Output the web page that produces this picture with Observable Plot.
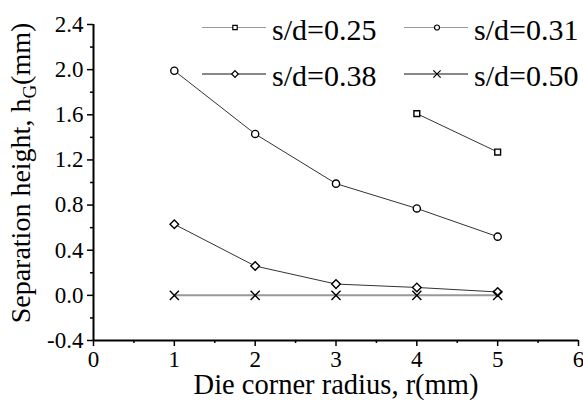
<!DOCTYPE html>
<html>
<head>
<meta charset="utf-8">
<script src="https://cdn.jsdelivr.net/npm/d3@7"></script>
<script src="https://cdn.jsdelivr.net/npm/@observablehq/plot@0.6"></script>
<style>
  html, body { margin: 0; padding: 0; background: #fff; }
  #chart { width: 583px; height: 402px; }
  #chart svg, #chart svg g, #chart svg text, #chart svg tspan { font-family: "Liberation Serif", "Times New Roman", Times, serif !important; }
</style>
</head>
<body>
<div id="chart"></div>
<script>
// ---- data ----
const radius = [1, 2, 3, 4, 5];
const seriesNames = ["s/d=0.25", "s/d=0.31", "s/d=0.38", "s/d=0.50"];
const sd025 = [null, null, null, 1.61, 1.27];
const sd031 = [1.99, 1.43, 0.99, 0.77, 0.52];
const sd038 = [0.63, 0.26, 0.10, 0.07, 0.03];
const sd050 = [0.00, 0.00, 0.00, 0.00, 0.00];
const xTicks = [0, 1, 2, 3, 4, 5, 6];
const xMinorTicks = [0.5, 1.5, 2.5, 3.5, 4.5, 5.5];
const yTicks = [-0.4, 0.0, 0.4, 0.8, 1.2, 1.6, 2.0, 2.4];
const yMinorTicks = [-0.2, 0.2, 0.6, 1.0, 1.4, 1.8, 2.2];
const xTitle = "Die corner radius, r(mm)";
const yTitleParts = ["Separation height, h", "G", "(mm)"];

// ---- styles per series ----
const seriesValues = [sd025, sd031, sd038, sd050];
const symbols = ["square2", "circle", "diamond2", "times"];
const symbolR = [3.7, 3.6, 3.9, 4.2];
const lineColor = ["#333", "#333", "#333", "#999"];
const lineWidth = [1, 1, 1, 2];
const legendLineColor = ["#999", "#999", "#111", "#111"];

const rows = seriesNames.map((name, i) =>
  radius.map((r, j) => ({series: name, r, h: seriesValues[i][j]})).filter(d => d.h != null)
);

const font = "Liberation Serif";

const marks = [];
rows.forEach((data, i) => {
  marks.push(Plot.line(data, {x: "r", y: "h", stroke: lineColor[i], strokeWidth: lineWidth[i]}));
});
rows.forEach((data, i) => {
  marks.push(Plot.dot(data, {x: "r", y: "h", symbol: symbols[i], r: symbolR[i],
    stroke: "#000", strokeWidth: 1.4, fill: "white"}));
});

const plot = Plot.plot({
  width: 583,
  height: 402,
  marginLeft: 93,
  marginRight: 5,
  marginTop: 24,
  marginBottom: 62,
  style: {fontFamily: font, background: "white", color: "#000", overflow: "visible"},
  x: {domain: [0, 6]},
  y: {domain: [-0.4, 2.4]},
  marks: [
    Plot.axisX(xTicks, {tickSize: 6, tickPadding: 4, fontSize: 23, label: null, strokeWidth: 1.5,
      fontFamily: font, tickFormat: d => String(d)}),
    Plot.axisX(xMinorTicks, {tickSize: 3, strokeWidth: 1.5, label: null, tickFormat: () => ""}),
    Plot.axisY(yTicks, {tickSize: 6, tickPadding: 4, fontSize: 23, label: null, strokeWidth: 1.5,
      fontFamily: font, tickFormat: d => d.toFixed(1)}),
    Plot.axisY(yMinorTicks, {tickSize: 3, strokeWidth: 1.5, label: null, tickFormat: () => ""}),
    Plot.ruleX([0], {strokeWidth: 2}),
    Plot.ruleY([-0.4], {strokeWidth: 2}),
    ...marks
  ]
});

const svg = d3.select(plot);
// drop the empty labels of the minor-tick axes
svg.selectAll("text").filter(function() { return this.textContent === ""; }).remove();

// x title
svg.append("text")
  .attr("x", 336).attr("y", 394)
  .attr("text-anchor", "middle")
  .attr("font-size", 28.5).attr("fill", "#000")
  .text(xTitle);

// y title with subscript
const yt = svg.append("text")
  .attr("transform", "translate(30,173) rotate(-90)")
  .attr("text-anchor", "middle")
  .attr("font-size", 28).attr("fill", "#000");
yt.append("tspan").text(yTitleParts[0]);
yt.append("tspan").attr("font-size", 19).attr("dy", 6).text(yTitleParts[1]);
yt.append("tspan").attr("dy", -6).text(yTitleParts[2]);

// legend (inside plot, top right)
const legendPos = [
  {x0: 202, y: 27.5},
  {x0: 404, y: 27.5},
  {x0: 202, y: 74},
  {x0: 404, y: 74}
];
const d3Symbols = {square2: d3.symbolSquare2, circle: d3.symbolCircle, diamond2: d3.symbolDiamond2, times: d3.symbolTimes};
const legendR = [2.8, 2.5, 3.0, 3.4];
seriesNames.forEach((name, i) => {
  const p = legendPos[i];
  const g = svg.append("g");
  g.append("line").attr("x1", p.x0).attr("x2", p.x0 + 64).attr("y1", p.y).attr("y2", p.y)
    .attr("stroke", legendLineColor[i]).attr("stroke-width", 1);
  g.append("path")
    .attr("transform", `translate(${p.x0 + 33},${p.y})`)
    .attr("d", d3.symbol(d3Symbols[symbols[i]], Math.PI * legendR[i] * legendR[i])())
    .attr("fill", "white").attr("stroke", "#000").attr("stroke-width", 1.2);
  g.append("text").attr("x", p.x0 + 70).attr("y", p.y + 6)
    .attr("text-anchor", "start")
    .attr("dy", "0.2em")
    .attr("font-size", 30).attr("fill", "#000")
    .text(name);
});

document.getElementById("chart").appendChild(plot);
</script>
</body>
</html>
